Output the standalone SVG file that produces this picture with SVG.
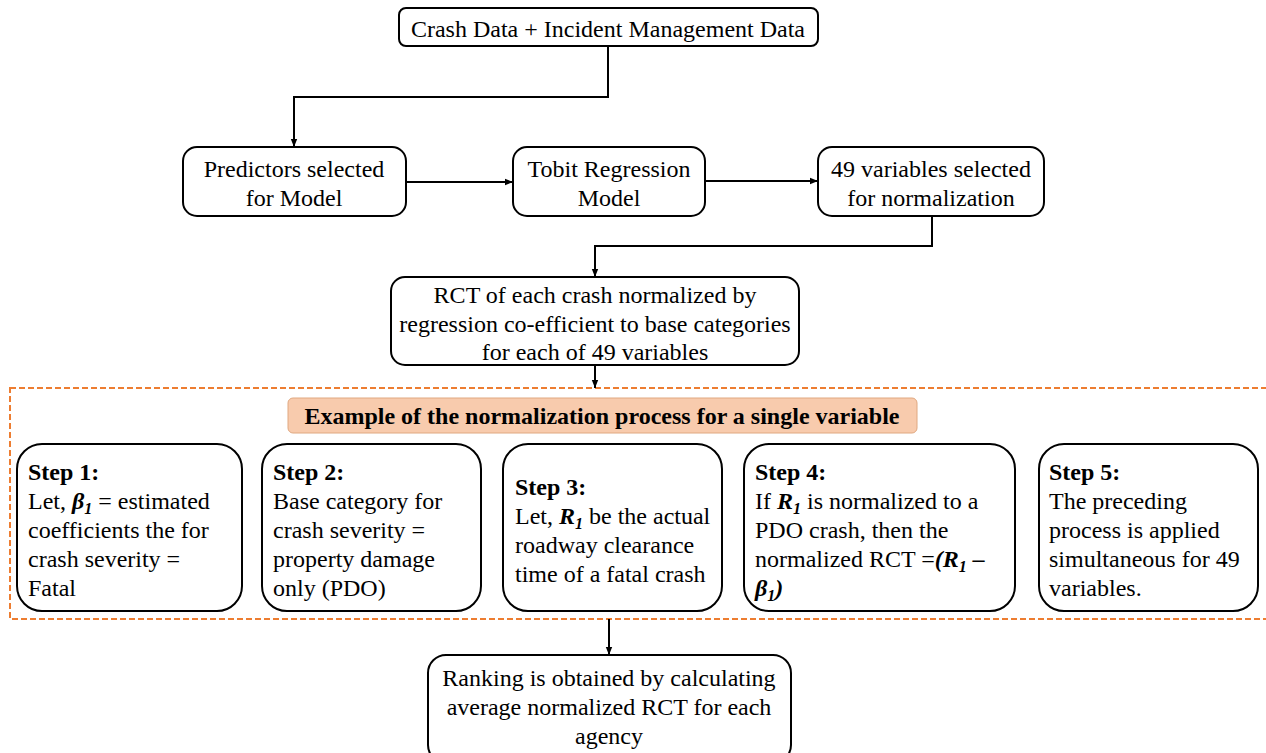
<svg xmlns="http://www.w3.org/2000/svg" width="1266" height="753" viewBox="0 0 1266 753">
<defs>
<marker id="ah" viewBox="0 0 10 10" refX="10" refY="5" markerWidth="4" markerHeight="4" orient="auto" markerUnits="strokeWidth"><path d="M0,1 L10,5 L0,9 z" fill="#000"/></marker>
<style>
.box{fill:#fff;stroke:#000;stroke-width:2}
.t{font-family:"Liberation Serif","Times New Roman",serif;font-size:24px;fill:#000}
.c{text-anchor:middle}
.b{font-weight:bold}
.conn{fill:none;stroke:#000;stroke-width:2;marker-end:url(#ah)}
</style>
</defs>
<rect width="1266" height="753" fill="#fff"/>
<g id="region">
<rect x="10" y="388" width="1270" height="231" fill="none" stroke="#ED7D31" stroke-width="2" stroke-dasharray="6,3"/>
</g>
<g id="connectors">
<path class="conn" d="M608,46 V97 H294 V147"/>
<path class="conn" d="M406,182 H513"/>
<path class="conn" d="M705,181 H818"/>
<path class="conn" d="M932,216 V246 H595 V277"/>
<path class="conn" d="M595,365 V388"/>
<path class="conn" d="M609,619 V655"/>
</g>
<g id="n-data">
<rect class="box" x="399" y="8" width="419" height="38" rx="7"/>
<text class="t c" x="608" y="37">Crash Data + Incident Management Data</text>
</g>
<g id="n-predictors">
<rect class="box" x="183" y="147" width="223" height="69" rx="14"/>
<text class="t c" x="294" y="177">Predictors selected</text>
<text class="t c" x="294" y="206">for Model</text>
</g>
<g id="n-tobit">
<rect class="box" x="513" y="147" width="192" height="69" rx="14"/>
<text class="t c" x="609" y="177">Tobit Regression</text>
<text class="t c" x="609" y="206">Model</text>
</g>
<g id="n-49">
<rect class="box" x="818" y="147" width="226" height="69" rx="14"/>
<text class="t c" x="931" y="177">49 variables selected</text>
<text class="t c" x="931" y="206">for normalization</text>
</g>
<g id="n-rct">
<rect class="box" x="391" y="277" width="408" height="88" rx="14"/>
<text class="t c" x="595" y="303">RCT of each crash normalized by</text>
<text class="t c" x="595" y="332">regression co-efficient to base categories</text>
<text class="t c" x="595" y="360">for each of 49 variables</text>
</g>
<g id="n-title">
<rect x="288" y="398" width="629" height="35" rx="5" fill="#F8CBAD" stroke="#E0A880" stroke-width="1"/>
<text class="t c b" x="602" y="424">Example of the normalization process for a single variable</text>
</g>
<g id="n-step1">
<rect class="box" x="17" y="444" width="225" height="167" rx="25"/>
<text class="t b" x="28" y="480">Step 1:</text>
<text class="t" x="28" y="509">Let, <tspan font-weight="bold" font-style="italic">β<tspan font-size="16" dy="5">1</tspan></tspan><tspan dy="-5"> = estimated</tspan></text>
<text class="t" x="28" y="538">coefficients the for</text>
<text class="t" x="28" y="567">crash severity =</text>
<text class="t" x="28" y="596">Fatal</text>
</g>
<g id="n-step2">
<rect class="box" x="262" y="444" width="219" height="167" rx="25"/>
<text class="t b" x="273" y="480">Step 2:</text>
<text class="t" x="273" y="509">Base category for</text>
<text class="t" x="273" y="538">crash severity =</text>
<text class="t" x="273" y="567">property damage</text>
<text class="t" x="273" y="596">only (PDO)</text>
</g>
<g id="n-step3">
<rect class="box" x="503" y="444" width="219" height="167" rx="25"/>
<text class="t b" x="515" y="495">Step 3:</text>
<text class="t" x="515" y="524">Let, <tspan font-weight="bold" font-style="italic">R<tspan font-size="16" dy="5">1</tspan></tspan><tspan dy="-5"> be the actual</tspan></text>
<text class="t" x="515" y="553">roadway clearance</text>
<text class="t" x="515" y="582">time of a fatal crash</text>
</g>
<g id="n-step4">
<rect class="box" x="744" y="444" width="271" height="167" rx="25"/>
<text class="t b" x="755" y="480">Step 4:</text>
<text class="t" x="755" y="509">If <tspan font-weight="bold" font-style="italic">R<tspan font-size="16" dy="5">1</tspan></tspan><tspan dy="-5"> is normalized to a</tspan></text>
<text class="t" x="755" y="538">PDO crash, then the</text>
<text class="t" x="755" y="567">normalized RCT =<tspan font-weight="bold" font-style="italic">(R<tspan font-size="16" dy="5">1</tspan><tspan dy="-5"> –</tspan></tspan></text>
<text class="t" x="755" y="596"><tspan font-weight="bold" font-style="italic">β<tspan font-size="16" dy="5">1</tspan><tspan dy="-5">)</tspan></tspan></text>
</g>
<g id="n-step5">
<rect class="box" x="1039" y="444" width="219" height="167" rx="25"/>
<text class="t b" x="1049" y="480">Step 5:</text>
<text class="t" x="1049" y="509">The preceding</text>
<text class="t" x="1049" y="538">process is applied</text>
<text class="t" x="1049" y="567">simultaneous for 49</text>
<text class="t" x="1049" y="596">variables.</text>
</g>
<g id="n-ranking">
<rect class="box" x="428" y="655" width="363" height="108" rx="18"/>
<text class="t c" x="609" y="686">Ranking is obtained by calculating</text>
<text class="t c" x="609" y="715">average normalized RCT for each</text>
<text class="t c" x="609" y="744">agency</text>
</g>
</svg>
